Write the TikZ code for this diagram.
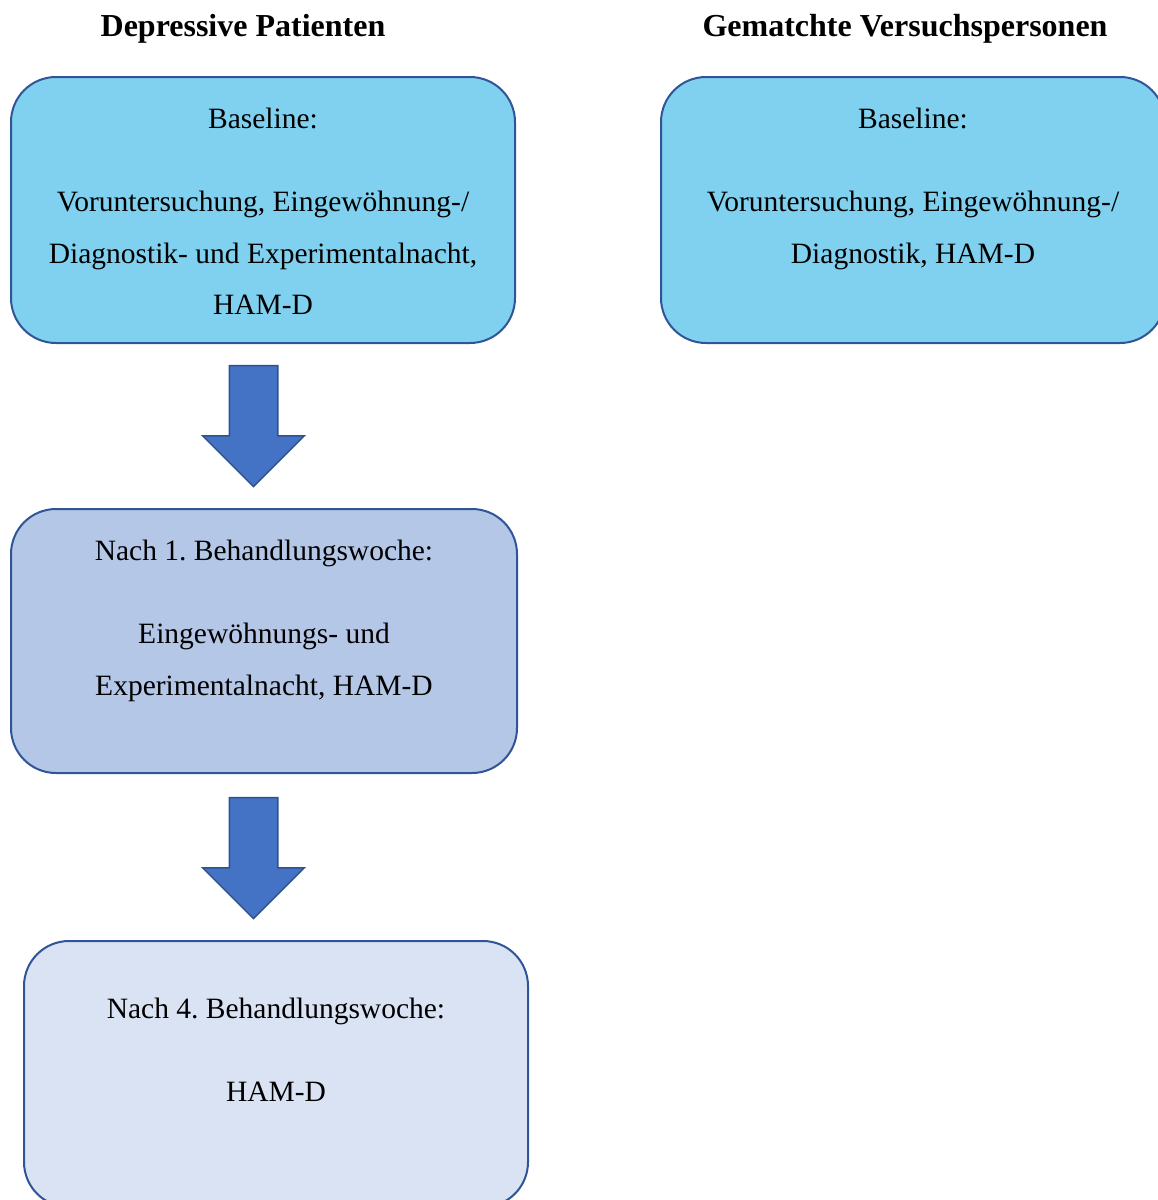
\documentclass[tikz,border=0pt]{standalone}
\usepackage{fontspec}
\setmainfont{Liberation Serif}
\usepackage{tikz}
\usetikzlibrary{positioning,shapes.arrows}

\definecolor{boxline}{HTML}{2F5597}
\definecolor{skyfill}{HTML}{80D1EF}
\definecolor{midfill}{HTML}{B4C7E7}
\definecolor{palefill}{HTML}{DAE3F3}
\definecolor{arrowfill}{HTML}{4472C4}
\definecolor{arrowline}{HTML}{2F528F}

\frenchspacing
\begin{document}
\begin{tikzpicture}[x=1pt,y=-1pt,
    phase/.style={draw=boxline, line width=2pt, rounded corners=45pt,
      minimum width=504pt, minimum height=266pt, inner sep=0pt},
    phasetext/.style={align=center, inner sep=0pt,
      font=\fontsize{29.5}{51.5}\selectfont},
    headline/.style={anchor=base, inner sep=0pt,
      font=\fontsize{32}{38}\selectfont\bfseries},
    bigarrow/.style={single arrow, draw=arrowline, fill=arrowfill, line width=1.5pt,
      shape border rotate=270, minimum height=121pt, minimum width=100pt,
      single arrow head extend=26.5pt, single arrow tip angle=90, inner sep=23.5pt}]
  \path[use as bounding box, clip] (0,0) rectangle (1158,1200);

  \node[headline] (titlepat) at (243,36) {Depressive Patienten};
  \node[headline] (titlectl) at (905,36) {Gematchte Versuchspersonen};

  % boxes
  \node[phase, fill=skyfill] (base1) at (263,210) {};
  \node[phase, fill=skyfill] (base2) at (913,210) {};
  \node[phase, fill=midfill, minimum width=506pt, minimum height=264pt] (week1) at (264,641) {};
  \node[phase, fill=palefill] (week4) at (276,1074) {};

  % texts
  \node[phasetext, below=32pt of base1.north] (base1txt)
    {Baseline:\\[31.5pt] Voruntersuchung, Eingewöhnung-/\\ Diagnostik- und Experimentalnacht,\\ HAM-D};
  \node[phasetext, below=32pt of base2.north] (base2txt)
    {Baseline:\\[31.5pt] Voruntersuchung, Eingewöhnung-/\\ Diagnostik, HAM-D};
  \node[phasetext, below=32pt of week1.north] (week1txt)
    {Nach 1. Behandlungswoche:\\[31.5pt] Eingewöhnungs- und\\ Experimentalnacht, HAM-D};
  \node[phasetext, below=58pt of week4.north] (week4txt)
    {Nach 4. Behandlungswoche:\\[31.5pt] HAM-D};

  % arrows
  \node[bigarrow] (step1) at (253.5,414) {};
  \node[bigarrow] (step2) at (253.5,846) {};
\end{tikzpicture}
\end{document}
